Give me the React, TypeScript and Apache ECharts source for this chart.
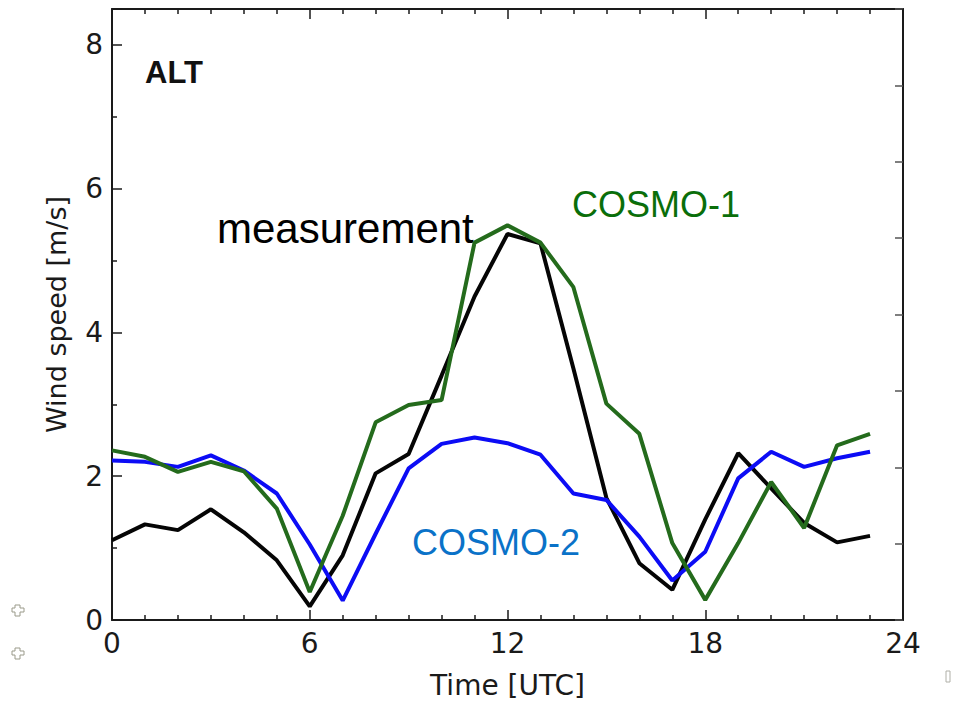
import React, { useEffect, useRef } from "react";
import * as echarts from "echarts";

const hours = [0, 1, 2, 3, 4, 5, 6, 7, 8, 9, 10, 11, 12, 13, 14, 15, 16, 17, 18, 19, 20, 21, 22, 23];
const measurement = [1.11, 1.33, 1.25, 1.54, 1.22, 0.83, 0.19, 0.9, 2.04, 2.31, 3.4, 4.5, 5.37, 5.24, 3.5, 1.7, 0.79, 0.42, 1.4, 2.32, 1.83, 1.35, 1.08, 1.17];
const cosmo1 = [2.36, 2.27, 2.06, 2.2, 2.07, 1.55, 0.39, 1.45, 2.75, 2.99, 3.06, 5.25, 5.49, 5.25, 4.63, 3.01, 2.59, 1.07, 0.28, 1.07, 1.92, 1.28, 2.43, 2.59];
const cosmo2 = [2.22, 2.2, 2.13, 2.29, 2.08, 1.76, 1.05, 0.27, 1.2, 2.11, 2.45, 2.54, 2.46, 2.3, 1.76, 1.67, 1.16, 0.55, 0.95, 1.97, 2.34, 2.13, 2.25, 2.34];
const yMajorTicks = [0, 2, 4, 6, 8];
const seriesNames = ["measurement", "COSMO-2", "COSMO-1"];

const pairs = (vals: number[]) => hours.map((h, i) => [h, vals[i]]);

export default function App() {
  const ref = useRef<HTMLDivElement>(null);
  useEffect(() => {
    document.body.style.margin = "0";
    const chart = echarts.init(ref.current!, undefined, { renderer: "svg" });
    const axisColor = "#1a1a1a";
    const tickFont = { fontFamily: "DejaVu Sans", fontSize: 28, color: "#1a1a1a" };
    chart.setOption({
      animation: false,
      backgroundColor: "#ffffff",
      grid: { left: 112, right: 50, top: 9, bottom: 84, containLabel: false },
      xAxis: [
        {
          type: "value",
          position: "bottom",
          min: 0,
          max: 24,
          interval: 6,
          axisLine: { show: true, onZero: false, lineStyle: { color: axisColor, width: 2 } },
          axisTick: { show: true, inside: true, length: 10, lineStyle: { color: axisColor, width: 1.5 } },
          minorTick: { show: true, splitNumber: 6, length: 5, lineStyle: { color: axisColor, width: 1.5 } },
          splitLine: { show: false },
          axisLabel: { ...tickFont, margin: 9 },
          name: "Time [UTC]",
          nameLocation: "middle",
          nameGap: 51,
          nameTextStyle: { fontFamily: "DejaVu Sans", fontSize: 28, color: "#1a1a1a" },
        },
        {
          type: "value",
          position: "top",
          min: 0,
          max: 24,
          interval: 6,
          axisLine: { show: true, onZero: false, lineStyle: { color: axisColor, width: 2 } },
          axisTick: { show: true, inside: true, length: 10, lineStyle: { color: axisColor, width: 1.5 } },
          minorTick: { show: true, splitNumber: 6, length: 5, lineStyle: { color: axisColor, width: 1.5 } },
          splitLine: { show: false },
          axisLabel: { show: false },
        },
      ],
      yAxis: [
        {
          type: "value",
          position: "left",
          min: 0,
          max: 8.5,
          interval: 2,
          axisLine: { show: true, onZero: false, lineStyle: { color: axisColor, width: 2 } },
          axisTick: { show: true, inside: true, length: 10, lineStyle: { color: axisColor, width: 1.5 } },
          minorTick: { show: true, splitNumber: 2, length: 5, lineStyle: { color: axisColor, width: 1.5 } },
          splitLine: { show: false },
          axisLabel: { ...tickFont, margin: 9, customValues: yMajorTicks },
          name: "Wind speed [m/s]",
          nameLocation: "middle",
          nameGap: 42,
          nameTextStyle: { fontFamily: "DejaVu Sans", fontSize: 27, color: "#1a1a1a" },
        },
        {
          type: "value",
          position: "right",
          min: 0,
          max: 8,
          interval: 1,
          axisLine: { show: true, onZero: false, lineStyle: { color: axisColor, width: 2 } },
          axisTick: { show: true, inside: true, length: 8, lineStyle: { color: "#555", width: 1.5 } },
          splitLine: { show: false },
          axisLabel: { show: false },
        },
      ],
      series: [
        {
          name: seriesNames[0],
          type: "line",
          xAxisIndex: 0,
          yAxisIndex: 0,
          data: pairs(measurement),
          symbol: "none",
          lineStyle: { color: "#050505", width: 4 },
        },
        {
          name: seriesNames[1],
          type: "line",
          xAxisIndex: 0,
          yAxisIndex: 0,
          data: pairs(cosmo2),
          symbol: "none",
          lineStyle: { color: "#0c0cf5", width: 4 },
        },
        {
          name: seriesNames[2],
          type: "line",
          xAxisIndex: 0,
          yAxisIndex: 0,
          data: pairs(cosmo1),
          symbol: "none",
          lineStyle: { color: "#246b1c", width: 4 },
        },
      ],
      graphic: [
        {
          type: "text",
          left: 145,
          top: 57,
          style: { text: "ALT", font: "bold 31px 'Liberation Sans', Arial, sans-serif", fill: "#111" },
        },
        {
          type: "text",
          x: 217,
          y: 228,
          style: { text: "measurement", font: "42px 'Liberation Sans', Arial, sans-serif", fill: "#000", verticalAlign: "middle" },
        },
        {
          type: "text",
          x: 572,
          y: 204,
          style: { text: "COSMO-1", font: "36px 'Liberation Sans', Arial, sans-serif", fill: "#0a6e0a", verticalAlign: "middle" },
        },
        {
          type: "text",
          x: 412,
          y: 542,
          style: { text: "COSMO-2", font: "36px 'Liberation Sans', Arial, sans-serif", fill: "#0a72c8", verticalAlign: "middle" },
        },
        {
          type: "polygon",
          shape: { points: [[15, 605], [20, 605], [20, 608], [24, 608], [24, 612], [20, 612], [20, 616], [15, 616], [15, 612], [12, 612], [12, 608], [15, 608]] },
          style: { fill: "none", stroke: "#9a9a8a", lineWidth: 1 },
        },
        {
          type: "polygon",
          shape: { points: [[15, 648], [20, 648], [20, 651], [24, 651], [24, 655], [20, 655], [20, 659], [15, 659], [15, 655], [12, 655], [12, 651], [15, 651]] },
          style: { fill: "none", stroke: "#9a9a8a", lineWidth: 1 },
        },
        {
          type: "rect",
          shape: { x: 946, y: 671, width: 4, height: 11 },
          style: { fill: "none", stroke: "#b0b0a8", lineWidth: 1 },
        },
      ],
    });
    return () => chart.dispose();
  }, []);
  return <div ref={ref} style={{ position: "absolute", left: 0, top: 0, width: 953, height: 704 }} />;
}
